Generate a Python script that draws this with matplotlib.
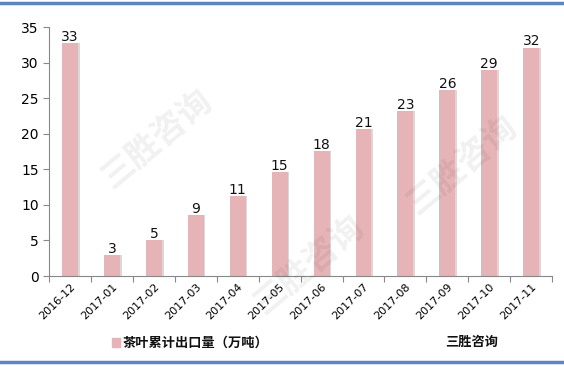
import matplotlib
matplotlib.use("Agg")
import matplotlib.pyplot as plt
from matplotlib.lines import Line2D
from matplotlib.patches import Rectangle
import numpy as np

plt.rcParams['font.family'] = ['DejaVu Sans', 'Noto Sans CJK SC']

months = ["2016-12", "2017-01", "2017-02", "2017-03", "2017-04", "2017-05",
          "2017-06", "2017-07", "2017-08", "2017-09", "2017-10", "2017-11"]
export_volume = [32.7, 2.95, 5.05, 8.6, 11.2, 14.6, 17.6, 20.6, 23.2, 26.1, 28.9, 32.1]
y_ticks = [0, 5, 10, 15, 20, 25, 30, 35]
series_name = "茶叶累计出口量（万吨）"
source_name = "三胜咨询"

bar_color = "#e6b4b6"
cjk = ['Noto Sans CJK SC', 'DejaVu Sans']

fig = plt.figure(figsize=(5.64, 3.68), dpi=100)
ax = fig.add_axes([0.087, 0.25, 0.892, 0.6766])

x = np.arange(len(months))
# soft shadow behind each bar
ax.bar(x + 0.04, export_volume, width=0.38, color="#d9d9d9", zorder=1)
bars = ax.bar(x, export_volume, width=0.38, color=bar_color, zorder=2)

for xi, v in zip(x, export_volume):
    ax.text(xi, v - 0.1, f"{v:.0f}", ha="center", va="bottom",
            fontsize=10, color="#111111", zorder=3)

ax.set_xlim(-0.5, len(months) - 0.5)
ax.set_ylim(0, 35)
ax.set_yticks(y_ticks)
ax.tick_params(axis="y", labelsize=10, length=4, color="#888888", direction="out")

# category ticks sit on the boundaries, labels in the middle
ax.set_xticks(np.arange(-0.5, len(months), 1.0))
ax.set_xticklabels([])
ax.set_xticks(x, minor=True)
ax.set_xticklabels(months, minor=True, rotation=45, ha="right",
                   rotation_mode="anchor", fontsize=8)
ax.tick_params(axis="x", which="major", length=4, color="#888888")
ax.tick_params(axis="x", which="minor", length=0, pad=4)

for side in ["top", "right"]:
    ax.spines[side].set_visible(False)
ax.spines["left"].set_color("#888888")
ax.spines["bottom"].set_color("#888888")

# faint watermark
for (wx, wy) in [(0.28, 0.62), (0.55, 0.28), (0.82, 0.55)]:
    fig.text(wx, wy, source_name, fontsize=24, color="#000000", alpha=0.06,
             rotation=40, ha="center", va="center", fontweight="bold",
             family=cjk)

# legend row
fig.patches.append(Rectangle((0.199, 0.058), 0.013, 0.024,
                             transform=fig.transFigure, color=bar_color))
fig.text(0.218, 0.070, series_name, fontsize=9.5, va="center", ha="left",
         fontweight="bold", color="#111111", family=cjk)
fig.text(0.790, 0.070, source_name, fontsize=9.5, va="center", ha="left",
         fontweight="bold", color="#111111", family=cjk)

# blue frame lines at top and bottom
for yy in [0.991, 0.016]:
    fig.add_artist(Line2D([0, 1], [yy, yy], transform=fig.transFigure,
                          color="#5b86c1", linewidth=2.5))

fig.savefig("out.png", dpi=100)
